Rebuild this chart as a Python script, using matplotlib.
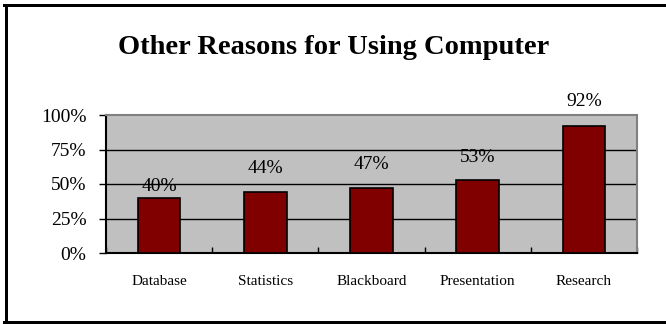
import matplotlib
matplotlib.use("Agg")
import matplotlib.pyplot as plt
from matplotlib.lines import Line2D

categories = ["Database", "Statistics", "Blackboard", "Presentation", "Research"]
values = [0.40, 0.44, 0.47, 0.53, 0.92]
value_labels = ["40%", "44%", "47%", "53%", "92%"]
y_ticks = [0, 0.25, 0.50, 0.75, 1.00]
y_tick_labels = ["0%", "25%", "50%", "75%", "100%"]
title = "Other Reasons for Using Computer"

# style: label offsets above bar top (pixels)
label_offsets_px = [11, 24, 24, 22, 25]

plt.rcParams['font.family'] = ['Liberation Serif', 'DejaVu Serif']

W, H = 666, 324
fig = plt.figure(figsize=(W / 100, H / 100), dpi=100)
fig.patch.set_facecolor("white")

ax = fig.add_axes([106 / W, (H - 253) / H, (637 - 106) / W, (253 - 115) / H])
ax.set_facecolor("#C0C0C0")

x = list(range(len(categories)))
ax.bar(x, values, width=0.4, color="#800000", edgecolor="black", linewidth=1.2, zorder=3)

ax.set_xlim(-0.5, len(categories) - 0.5)
ax.set_ylim(0, 1.0)

for yv in y_ticks[1:-1]:
    ax.axhline(yv, color="black", linewidth=1.0, zorder=1)

ax.set_yticks(y_ticks)
ax.set_yticklabels(y_tick_labels, fontsize=14)
ax.tick_params(axis="y", direction="out", length=5, width=1, pad=9)

# category boundary ticks
ax.set_xticks([i + 0.5 for i in range(-1, len(categories))], minor=False)
ax.set_xticklabels([])
ax.tick_params(axis="x", which="major", direction="in", length=4, width=1)
ax.set_xticks(x, minor=True)
ax.set_xticklabels(categories, minor=True, fontsize=11)
ax.tick_params(axis="x", which="minor", length=0, pad=16)

for s in ["left", "bottom"]:
    ax.spines[s].set_color("black")
    ax.spines[s].set_linewidth(1.5)
for s in ["top", "right"]:
    ax.spines[s].set_color("#808080")
    ax.spines[s].set_linewidth(1.5)

for xi, v, lab, off in zip(x, values, value_labels, label_offsets_px):
    ax.annotate(lab, xy=(xi, v), xytext=(0, off * 0.72), textcoords="offset points",
                ha="center", va="center", fontsize=14, color="black", zorder=4,
                annotation_clip=False)

fig.text(334 / W, 1 - 47 / H, title, ha="center", va="center", fontsize=20.5, fontweight="bold")

# outer frame (left, top, bottom)
lw = 3 * 0.72
fig.add_artist(Line2D([5.5 / W, 5.5 / W], [1 - 4.5 / H, 1 - 321.5 / H], color="black", linewidth=lw, transform=fig.transFigure))
fig.add_artist(Line2D([4 / W, 1.0], [1 - 4.5 / H, 1 - 4.5 / H], color="black", linewidth=lw, transform=fig.transFigure))
fig.add_artist(Line2D([4 / W, 1.0], [1 - 321.5 / H, 1 - 321.5 / H], color="black", linewidth=lw, transform=fig.transFigure))

fig.savefig("out.png", dpi=100)
